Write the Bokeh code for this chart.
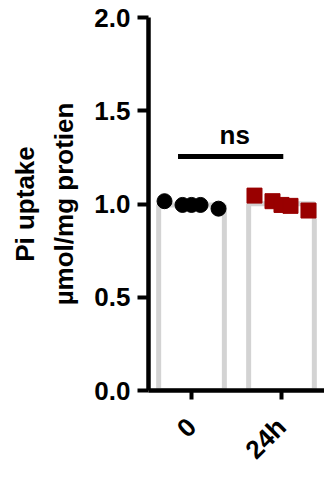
import numpy as np
from bokeh.plotting import figure
from bokeh.models import Range1d, FixedTicker, NumeralTickFormatter
from bokeh.core.properties import value
from bokeh.embed import file_html
from bokeh.resources import INLINE

# ---- data ----
categories = ["0", "24h"]
group_0h = [1.015, 0.995, 0.995, 0.995, 0.975]
group_24h = [1.045, 1.015, 0.995, 0.99, 0.965]
y_ticks = [0.0, 0.5, 1.0, 1.5, 2.0]
sig_label = "ns"
y_label = "Pi uptake\nµmol/mg protien"

FONT = "Liberation Sans"
spread = np.array([-3, -1, 0, 1, 3]) * 0.1  # horizontal scatter layout

p = figure(width=324, height=478, output_backend="svg", toolbar_location=None,
           x_range=Range1d(-0.478, 1.478), y_range=Range1d(0, 2),
           min_border_left=148, min_border_top=17, min_border_right=0, min_border_bottom=84)
p.outline_line_color = None
p.xgrid.visible = False
p.ygrid.visible = False
p.background_fill_color = "white"
p.border_fill_color = "white"

means = [float(np.mean(group_0h)), float(np.mean(group_24h))]
xs = list(range(len(categories)))
p.vbar(x=xs, top=means, bottom=0, width=0.73, fill_color="white",
       line_color="#d3d3d3", line_width=5)

p.scatter(x=xs[0] + spread, y=group_0h, marker="circle", size=15,
          fill_color="black", line_color="black")
p.scatter(x=xs[1] + spread, y=group_24h, marker="square", size=15,
          fill_color="#990000", line_color="#990000")

# significance bar
sig_y = max(max(group_0h), max(group_24h)) + 0.21
p.segment(x0=[xs[0] - 0.15], y0=[sig_y], x1=[xs[1] + 0.02], y1=[sig_y],
          line_color="black", line_width=5)
p.text(x=[(xs[0] + xs[1]) / 2 - 0.02], y=[sig_y], text=[sig_label], y_offset=-21,
       text_align="center", text_baseline="alphabetic",
       text_font=value(FONT), text_font_style="bold", text_font_size="26px",
       text_color="black")

# axes
for ax in (p.xaxis[0], p.yaxis[0]):
    ax.axis_line_width = 4.5
    ax.axis_line_color = "black"
    ax.major_tick_line_width = 4
    ax.major_tick_line_color = "black"
    ax.minor_tick_line_color = None
    ax.major_tick_in = 0
    ax.major_tick_out = 11
    ax.major_label_text_font = FONT
    ax.major_label_text_font_style = "bold"
    ax.major_label_text_font_size = "26px"
    ax.major_label_text_color = "black"

p.yaxis.ticker = FixedTicker(ticks=y_ticks)
p.yaxis.formatter = NumeralTickFormatter(format="0.0")
p.yaxis.major_label_standoff = 7
p.yaxis.axis_label = y_label
p.yaxis.axis_label_text_font = FONT
p.yaxis.axis_label_text_font_style = "bold"
p.yaxis.axis_label_text_font_size = "26px"
p.yaxis.axis_label_text_color = "black"
p.yaxis.axis_label_text_line_height = 1.3
p.yaxis.axis_label_standoff = 12

p.xaxis.ticker = FixedTicker(ticks=xs)
p.xaxis.major_label_overrides = {i: c for i, c in zip(xs, categories)}
p.xaxis.major_label_orientation = np.pi / 4
p.xaxis.major_tick_out = 9
p.xaxis.major_label_standoff = 23

open("out.html", "w").write(file_html(p, INLINE))
